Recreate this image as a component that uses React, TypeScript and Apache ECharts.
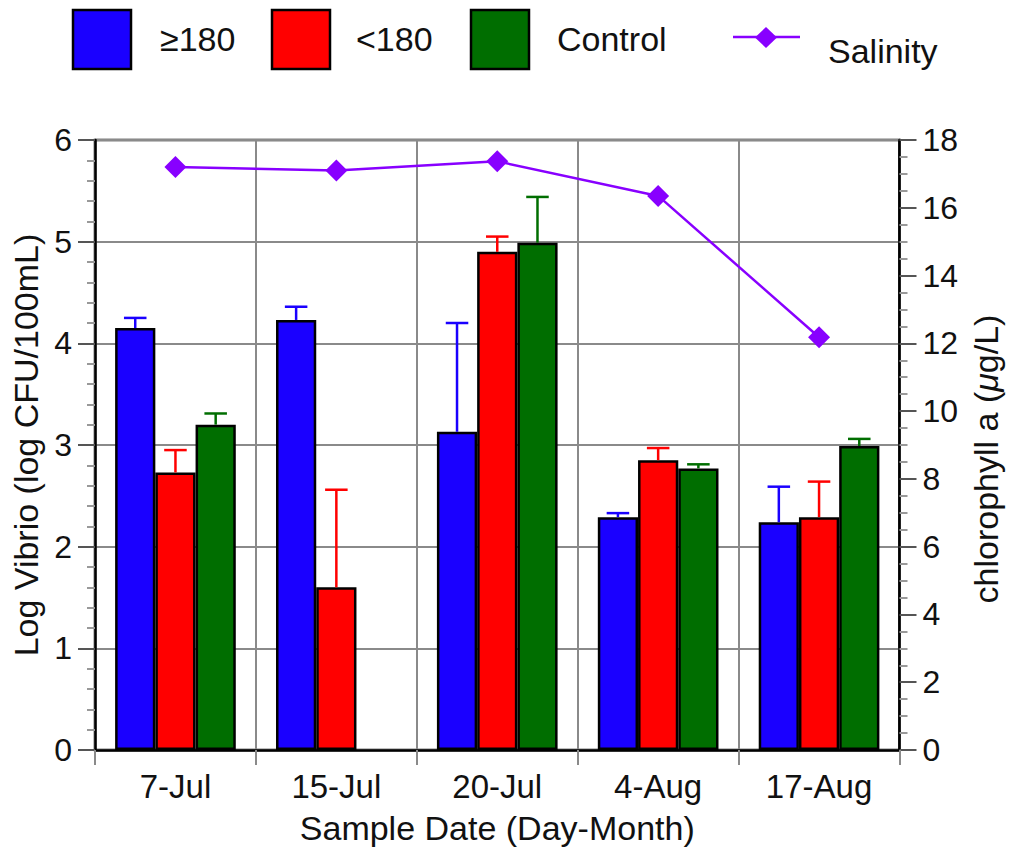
import React, { useEffect, useRef } from 'react';
import * as echarts from 'echarts';

// Sampling dates (categories)
const dates = ['7-Jul', '15-Jul', '20-Jul', '4-Aug', '17-Aug'];

// Log Vibrio counts (log CFU/100mL) and upper error limits
const above180 = [4.15, 4.23, 3.13, 2.29, 2.24];
const above180Upper = [4.25, 4.36, 4.2, 2.33, 2.59];
const below180 = [2.73, 1.6, 4.9, 2.85, 2.29];
const below180Upper = [2.95, 2.56, 5.05, 2.97, 2.64];
const control = [3.2, null, 4.99, 2.77, 2.99];
const controlUpper = [3.31, null, 5.44, 2.81, 3.06];

// Salinity, plotted on the right axis
const salinity = [17.2, 17.1, 17.37, 16.35, 12.18];

const FONT = '"Liberation Sans", Arial, Helvetica, sans-serif';
const FS_TICK = 32;
const FS_CAT = 33;
const FS_TITLE = 34;
const BLUE = '#1a00ff';
const RED = '#ff0000';
const GREEN = '#006e00';
const PURPLE = '#8800ff';
const GRID_GRAY = '#8a8a8a';

function errorSeries(name: string, vals: (number | null)[], uppers: (number | null)[], color: string, slot: number) {
  return {
    type: 'custom',
    name,
    z: 6,
    silent: true,
    encode: { x: 0, y: [1, 2] },
    data: vals
      .map((v, i) => (v == null || uppers[i] == null ? null : [i, v, uppers[i]]))
      .filter((d) => d !== null),
    renderItem: (_params: any, api: any) => {
      const i = api.value(0);
      const base = api.coord([i, api.value(1)]);
      const top = api.coord([i, api.value(2)]);
      const band = api.size([1, 0])[0];
      const w = (band * 0.75) / 3;
      const x = base[0] + (slot - 1) * w;
      const half = w * 0.28;
      return {
        type: 'group',
        children: [
          { type: 'line', shape: { x1: x, y1: base[1], x2: x, y2: top[1] }, style: { stroke: color, lineWidth: 2.5 } },
          { type: 'line', shape: { x1: x - half, y1: top[1], x2: x + half, y2: top[1] }, style: { stroke: color, lineWidth: 2.5 } },
        ],
      };
    },
  };
}

function legendGraphics() {
  const items: any[] = [];
  const boxes = [
    { x: 73, color: BLUE, label: '≥180', tx: 160 },
    { x: 272, color: RED, label: '<180', tx: 356 },
    { x: 471, color: GREEN, label: 'Control', tx: 557 },
  ];
  boxes.forEach((b) => {
    items.push({
      type: 'rect',
      shape: { x: b.x, y: 10, width: 58, height: 59 },
      style: { fill: b.color, stroke: '#000', lineWidth: 2.5 },
    });
    items.push({
      type: 'text',
      x: b.tx,
      y: 39,
      style: { text: b.label, font: `${FS_TITLE}px ${FONT}`, fill: '#111', verticalAlign: 'middle' },
    });
  });
  items.push({
    type: 'line',
    shape: { x1: 733, y1: 37, x2: 800, y2: 37 },
    style: { stroke: PURPLE, lineWidth: 2.5 },
  });
  items.push({
    type: 'polygon',
    shape: { points: [[766, 27], [777, 37.5], [766, 48], [755, 37.5]] },
    style: { fill: PURPLE },
  });
  items.push({
    type: 'text',
    x: 828,
    y: 51,
    style: { text: 'Salinity', font: `${FS_TITLE}px ${FONT}`, fill: '#111', verticalAlign: 'middle' },
  });
  return items;
}

export default function App() {
  const ref = useRef<HTMLDivElement>(null);

  useEffect(() => {
    if (!ref.current) return;
    const chart = echarts.init(ref.current, undefined, { renderer: 'svg' });
    const barStyle = (color: string) => ({ color, borderColor: '#000', borderWidth: 2.5 });

    chart.setOption({
      animation: false,
      backgroundColor: '#fff',
      textStyle: { fontFamily: FONT },
      grid: {
        left: 95,
        right: 102,
        top: 140,
        bottom: 100,
        show: true,
        borderColor: '#000',
        borderWidth: 2.5,
        backgroundColor: 'transparent',
      },
      graphic: legendGraphics(),
      xAxis: {
        type: 'category',
        data: dates,
        boundaryGap: true,
        name: 'Sample Date (Day-Month)',
        nameLocation: 'middle',
        nameGap: 61,
        nameTextStyle: { fontSize: FS_TITLE, color: '#111', fontFamily: FONT },
        axisLine: { show: true, lineStyle: { color: '#000', width: 2.5 } },
        axisTick: { show: true, interval: 0, length: 15, lineStyle: { color: GRID_GRAY, width: 2 } },
        axisLabel: { fontSize: FS_CAT, color: '#111', margin: 20, fontFamily: FONT, interval: 0 },
        splitLine: { show: true, interval: 0, lineStyle: { color: GRID_GRAY, width: 2 } },
      },
      yAxis: [
        {
          type: 'value',
          min: 0,
          max: 6,
          interval: 1,
          name: 'Log Vibrio (log CFU/100mL)',
          nameLocation: 'middle',
          nameGap: 48,
          nameTextStyle: { fontSize: FS_TITLE, color: '#111', fontFamily: FONT },
          axisLine: { show: true, lineStyle: { color: '#000', width: 2.5 } },
          axisTick: { show: true, length: 17, lineStyle: { color: '#555', width: 2 } },
          minorTick: { show: true, splitNumber: 5, length: 8, lineStyle: { color: '#999', width: 2 } },
          axisLabel: { fontSize: FS_TICK, color: '#111', margin: 23, fontFamily: FONT },
          splitLine: { show: true, lineStyle: { color: GRID_GRAY, width: 2 } },
        },
        {
          type: 'value',
          min: 0,
          max: 18,
          interval: 2,
          position: 'right',
          name: '{n|chlorophyll a (}{i|μ}{n|g/L)}',
          nameLocation: 'middle',
          nameGap: 62,
          nameTextStyle: {
            fontSize: FS_TITLE,
            color: '#111',
            fontFamily: FONT,
            padding: [0, 28, 0, 0],
            rich: {
              n: { fontSize: FS_TITLE, color: '#111', fontFamily: FONT },
              i: { fontSize: FS_TITLE, color: '#111', fontFamily: FONT, fontStyle: 'italic' },
            },
          },
          axisLine: { show: true, lineStyle: { color: '#000', width: 2.5 } },
          axisTick: { show: true, length: 17, lineStyle: { color: '#555', width: 2 } },
          minorTick: { show: true, splitNumber: 4, length: 8, lineStyle: { color: '#999', width: 2 } },
          axisLabel: { fontSize: FS_TICK, color: '#111', margin: 23, fontFamily: FONT },
          splitLine: { show: false },
        },
      ],
      series: [
        {
          type: 'bar',
          name: '≥180',
          data: above180,
          barGap: '0%',
          barCategoryGap: '25%',
          itemStyle: barStyle(BLUE),
          z: 3,
        },
        {
          type: 'bar',
          name: '<180',
          data: below180,
          barGap: '0%',
          barCategoryGap: '25%',
          itemStyle: barStyle(RED),
          z: 3,
        },
        {
          type: 'bar',
          name: 'Control',
          data: control,
          barGap: '0%',
          barCategoryGap: '25%',
          itemStyle: barStyle(GREEN),
          z: 3,
        },
        errorSeries('≥180 error', above180, above180Upper, BLUE, 0),
        errorSeries('<180 error', below180, below180Upper, RED, 1),
        errorSeries('Control error', control, controlUpper, GREEN, 2),
        {
          type: 'line',
          name: 'Salinity',
          yAxisIndex: 1,
          data: salinity,
          symbol: 'diamond',
          symbolSize: [22, 22],
          itemStyle: { color: PURPLE },
          lineStyle: { color: PURPLE, width: 2.5 },
          z: 10,
        },
      ],
    });

    return () => chart.dispose();
  }, []);

  return (
    <div
      ref={ref}
      style={{ position: 'fixed', left: 0, top: 0, width: 1011, height: 850, background: '#fff' }}
    />
  );
}
